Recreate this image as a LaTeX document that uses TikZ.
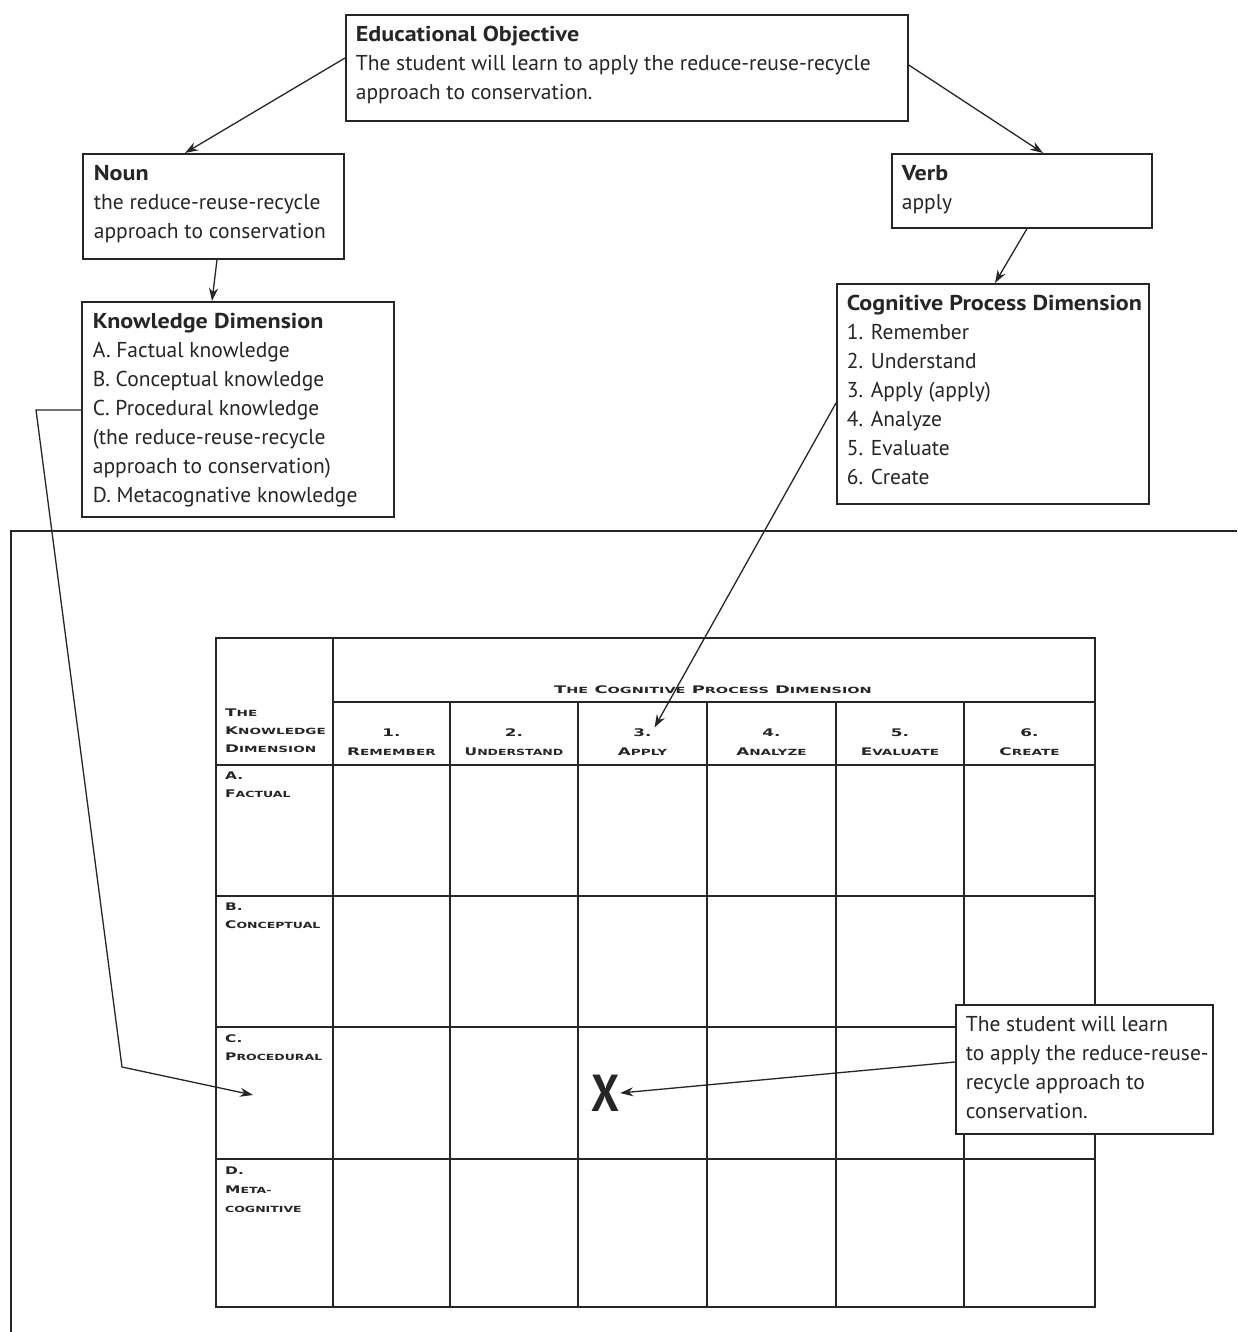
\documentclass[tikz,border=0pt]{standalone}
\usepackage{fontspec}
\usepackage{graphicx}
\setmainfont{PT Sans}
\newfontfamily\cpfont{DejaVu Sans}
\usetikzlibrary{arrows.meta,calc}
\definecolor{ink}{gray}{0.15}
\newcommand\bt[3]{\parbox[t][#2pt][t]{#1pt}{\fontsize{21.5}{29}\selectfont\rule{0pt}{27pt}#3}}
\newcommand\hd[1]{\scalebox{1.12}[1]{\textbf{#1}}}
\newcommand\CP[1]{\scalebox{1.6}[1]{#1}}
\newcommand\CPt[1]{\scalebox{1.7}[1]{#1}}
\newcommand\CPr[1]{\scalebox{1.47}[1]{#1}}
\newcommand\smc[1]{{\fontsize{8.5}{10}\selectfont #1}}
\tikzset{
  box/.style={draw=ink, fill=white, line width=1.7pt, inner xsep=10pt, inner ysep=0pt, anchor=north west, text=ink},
  conn/.style={draw=ink, line width=1.3pt, -{Stealth[length=13pt,width=9pt]}},
  grid/.style={draw=ink, line width=1.4pt},
  cp/.style={font=\cpfont\bfseries\fontsize{10.5}{19}\selectfont, inner sep=0pt, align=center, text=ink},
  cpl/.style={cp, align=left, anchor=west, font=\cpfont\bfseries\fontsize{10.5}{18}\selectfont},
}
\begin{document}
\begin{tikzpicture}[x=1pt,y=-1pt]
\fill[white] (0,0) rectangle (1237,1332);
\useasboundingbox (0,0) rectangle (1237,1332);

% top boxes
\node[box] (edu) at (345,14) {\bt{542}{106}{\mbox{\hd{Educational Objective}}\\\mbox{The student will learn to apply the reduce-reuse-recycle}\\\mbox{approach to conservation.}}};
\node[box, inner xsep=11pt] (noun) at (82,153) {\bt{239}{105}{\mbox{\hd{Noun}}\\\mbox{the reduce-reuse-recycle}\\\mbox{approach to conservation}}};
\node[box] (verb) at (891,153) {\bt{240}{74}{\mbox{\hd{Verb}}\\\mbox{apply}}};
\node[box, inner xsep=11pt] (kd) at (81,301) {\bt{290}{215}{\mbox{\hd{Knowledge Dimension}}\\\mbox{A. Factual knowledge}\\\mbox{B. Conceptual knowledge}\\\mbox{C. Procedural knowledge}\\\mbox{(the reduce-reuse-recycle}\\\mbox{approach to conservation)}\\\mbox{D. Metacognative knowledge}}};
\node[box] (cpd) at (836,283) {\bt{292}{220}{\mbox{\hd{Cognitive Process Dimension}}\\\mbox{1. Remember}\\\mbox{2. Understand}\\\mbox{3. Apply (apply)}\\\mbox{4. Analyze}\\\mbox{5. Evaluate}\\\mbox{6. Create}}};

% outer frame
\draw[line width=1.3pt, draw=ink] (1237,531) -- (11,531) -- (11,1332);

% table grid
\draw[grid] (216,638) rectangle (1095,1307);
\draw[grid] (333,638) -- (333,1307);
\draw[grid] (333,702) -- (1095,702);
\foreach \yy in {765,896,1027,1159} \draw[grid] (216,\yy) -- (1095,\yy);
\foreach \xx in {450,578,707,836,964} \draw[grid] (\xx,702) -- (\xx,1307);

% table texts
\node[cp] (title) at (713,690) {\CPt{T\smc{HE} C\smc{OGNITIVE} P\smc{ROCESS} D\smc{IMENSION}}};
\node[cpl] (kdhead) at (225,731) {\CP{T\smc{HE}}\\\CP{K\smc{NOWLEDGE}}\\\CP{D\smc{IMENSION}}};
\node[cp] (h1) at (391.5,742.5) {\CP{1.}\\\CP{R\smc{EMEMBER}}};
\node[cp] (h2) at (514,742.5) {\CP{2.}\\\CPr{U\smc{NDERSTAND}}};
\node[cp] (h3) at (642.5,742.5) {\CP{3.}\\\CP{A\smc{PPLY}}};
\node[cp] (h4) at (771.5,742.5) {\CP{4.}\\\CP{A\smc{NALYZE}}};
\node[cp] (h5) at (900,742.5) {\CP{5.}\\\CP{E\smc{VALUATE}}};
\node[cp] (h6) at (1029.5,742.5) {\CP{6.}\\\CP{C\smc{REATE}}};
\node[cpl] (ra) at (225,785) {\CPr{A.}\\\CPr{F\smc{ACTUAL}}};
\node[cpl] (rb) at (225,916) {\CPr{B.}\\\CPr{C\smc{ONCEPTUAL}}};
\node[cpl] (rc) at (225,1048) {\CPr{C.}\\\CPr{P\smc{ROCEDURAL}}};
\node[cpl, font=\cpfont\bfseries\fontsize{10.5}{19}\selectfont] (rd) at (225,1190) {\CPr{D.}\\\CPr{M\smc{ETA-}}\\\CPr{\smc{COGNITIVE}}};

% X mark and callout
\node[font=\fontsize{52}{52}\selectfont\bfseries, text=ink, inner sep=1pt] (xmark) at (605,1093) {\scalebox{0.85}[1]{X}};
\node[box, inner xsep=10pt] (call) at (955,1004) {\bt{237}{129}{\mbox{The student will learn}\\\mbox{to apply the reduce-reuse-}\\\mbox{recycle approach to}\\\mbox{conservation.}}};

% connectors
\draw[conn] ($(edu.north west)+(0,44)$) -- ($(noun.north west)+(103,0)$);
\draw[conn] ($(edu.north east)+(0,51)$) -- ($(verb.north west)+(152,0)$);
\draw[conn] ($(noun.south west)+(135,0)$) -- ($(kd.north west)+(131,0)$);
\draw[conn] ($(verb.south west)+(136,0)$) -- ($(cpd.north west)+(159,0)$);
\draw[conn] ($(cpd.north west)+(0,120)$) -- ($(h3.center)+(12,-15)$);
\coordinate (kdb1) at (36,410);
\coordinate (kdb2) at (122,1067);
\coordinate (kdend) at (253,1095);
\draw[conn] ($(kd.north west)+(0,109)$) -- (kdb1) -- (kdb2) -- (kdend);
\draw[conn] ($(call.north west)+(0,58)$) -- (xmark.east);
\end{tikzpicture}
\end{document}
